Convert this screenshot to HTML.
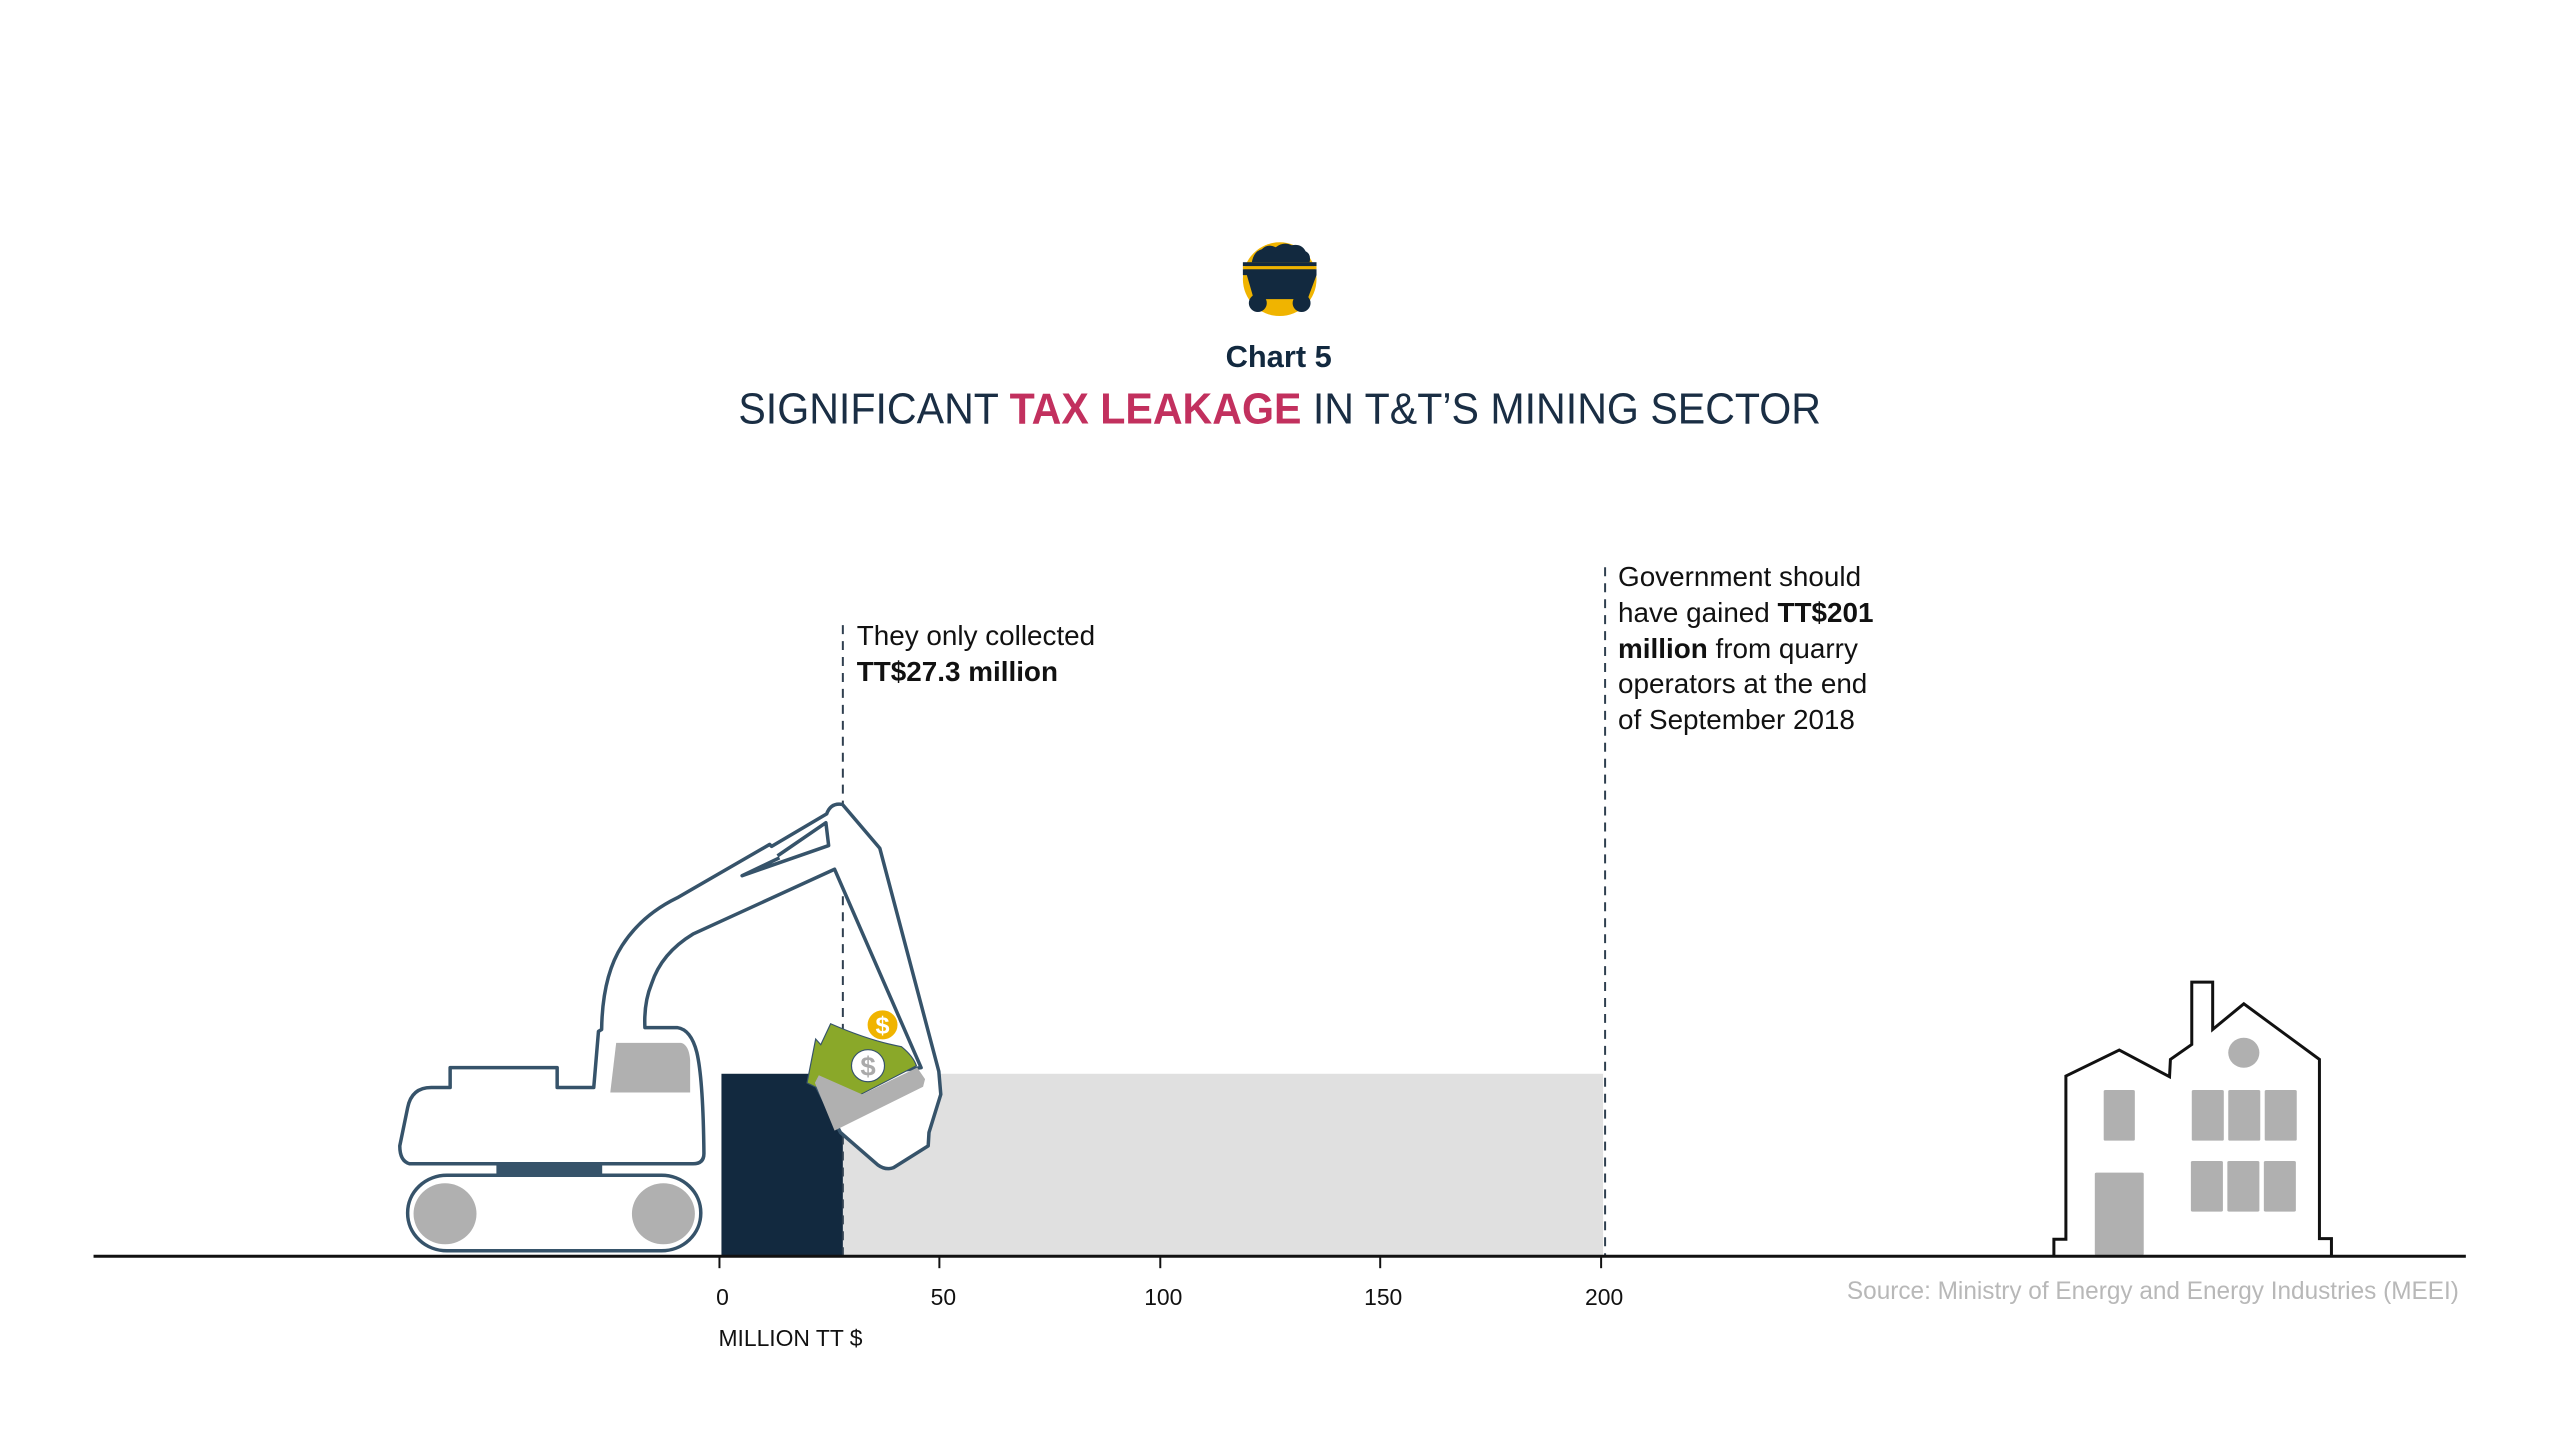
<!DOCTYPE html>
<html><head><meta charset="utf-8"><style>
html,body{margin:0;padding:0;background:#fff;}
svg{display:block;}
text{font-family:"Liberation Sans",sans-serif;}
</style></head><body>
<svg width="2560" height="1440" viewBox="0 0 2560 1440" xmlns="http://www.w3.org/2000/svg">
<rect width="2560" height="1440" fill="#fff"/>
<g transform="scale(0.9951,0.997)">
<!-- icon -->
<g transform="translate(6,0)">
<circle cx="1280" cy="280" r="37" fill="#f0b400"/>
<path d="M1252,263 Q1254,252 1262,250 Q1268,244 1276,248 Q1284,242 1292,246 Q1302,244 1306,252 Q1312,255 1310,263 Z" fill="#12293f"/>
<rect x="1243" y="263" width="74" height="4" fill="#12293f"/>
<rect x="1243" y="267" width="74" height="3" fill="#f0b400"/>
<path d="M1243,270 L1317,270 L1317,276 L1308,300 L1254,300 L1247,276 L1243,276 Z" fill="#12293f"/>
<circle cx="1258" cy="304" r="9" fill="#12293f"/>
<circle cx="1302" cy="304" r="9" fill="#12293f"/>
</g>
<!-- titles -->
<text x="1285" y="368" font-size="31" font-weight="bold" fill="#12293f" text-anchor="middle">Chart 5</text>
<text x="742" y="425" font-size="44" fill="#1a2e44" textLength="1088" lengthAdjust="spacingAndGlyphs">SIGNIFICANT <tspan font-weight="bold" fill="#c2305e">TAX LEAKAGE</tspan> IN T&amp;T’S MINING SECTOR</text>
<!-- bars -->
<rect x="847" y="1077" width="764" height="182" fill="#e0e0e0"/>
<rect x="725" y="1077" width="122" height="182" fill="#12293f"/>
<!-- dashed lines -->
<line x1="847" y1="627" x2="847" y2="1259" stroke="#2f3f4f" stroke-width="2" stroke-dasharray="9,7"/>
<line x1="1613" y1="569" x2="1613" y2="1259" stroke="#2f3f4f" stroke-width="2" stroke-dasharray="9,7"/>
<!-- annotations -->
<text font-size="28" fill="#111"><tspan x="861" y="647">They only collected</tspan><tspan x="861" y="683" font-weight="bold">TT$27.3 million</tspan></text>
<text font-size="28" fill="#111"><tspan x="1626" y="588">Government should</tspan><tspan x="1626" y="624">have gained <tspan font-weight="bold">TT$201</tspan></tspan><tspan x="1626" y="660" font-weight="bold">million <tspan font-weight="normal">from quarry</tspan></tspan><tspan x="1626" y="695">operators at the end</tspan><tspan x="1626" y="731">of September 2018</tspan></text>
<!-- excavator -->
<g transform="translate(380,780) scale(0.3954,0.3827)" stroke="#36536a" stroke-width="3.5" stroke-linejoin="round">
<path vector-effect="non-scaling-stroke" d="M80,1012 Q55,1005 55,965 L75,865 Q85,812 135,812 L183,812 L183,760 L455,760 L455,812 L548,812 L560,665 L568,660 Q570,520 620,440 Q670,360 760,315 L995,175 L1000,180 L1140,95 Q1150,65 1180,70 L1275,185 L1425,770 L1430,830 L1400,930 L1398,965 L1310,1022 Q1290,1030 1270,1015 L1175,930 L1110,800 L1380,760 L1160,240 L800,410 Q720,460 695,540 Q675,590 678,655 L760,655 Q795,660 810,720 Q826,790 828,985 Q828,1012 800,1012 Z" fill="#fff"/>
<path vector-effect="non-scaling-stroke" d="M1015,205 L1138,118 L1145,178 L925,257 L1020,210" fill="none"/>
<rect vector-effect="non-scaling-stroke" x="305" y="1014" width="260" height="28" fill="#36536a"/>
<rect vector-effect="non-scaling-stroke" x="75" y="1042" width="745" height="198" rx="100" ry="98" fill="#fff"/>
</g>
<g transform="translate(380,780) scale(0.3954,0.3827)">
<ellipse cx="170" cy="1143" rx="80" ry="80" fill="#b0b0b0"/>
<ellipse cx="725" cy="1143" rx="80" ry="80" fill="#b0b0b0"/>
<path d="M605,695 L770,695 Q790,700 793,740 L793,825 L590,825 Z" fill="#b0b0b0"/>
<path d="M1150,645 Q1250,690 1330,705 Q1360,730 1368,755 L1180,855 L1120,815 L1090,800 L1112,685 L1125,700 Z" fill="#8aa829" stroke="#36536a" stroke-width="3"/>
<path d="M1110,800 L1160,925 L1385,810 L1390,790 L1370,760 L1230,830 L1120,780 Z" fill="#b0b0b0"/>
<ellipse cx="1282" cy="648" rx="40" ry="40" fill="#f0b400" stroke="#fff" stroke-width="4"/>
<text x="1282" y="670" font-size="64" font-weight="bold" fill="#fff" text-anchor="middle">$</text>
<ellipse cx="1245" cy="755" rx="42" ry="42" fill="#fff" stroke="#36536a" stroke-width="3"/>
<text x="1245" y="780" font-size="70" font-weight="bold" fill="#aaa" text-anchor="middle">$</text>
</g>
<!-- house -->
<g transform="translate(1810.1,962.4) scale(0.447,0.334)">
<path vector-effect="non-scaling-stroke" d="M568,888 L568,840 L595,840 L595,350 L715,272 L828,352 L830,300 L878,255 L878,68 L925,68 L925,210 L995,133 L1165,300 L1165,838 L1192,838 L1192,888" fill="#fff" stroke="#111" stroke-width="3"/>
<ellipse cx="995" cy="280" rx="35" ry="45" fill="#b0b0b0"/>
<rect x="680" y="392" width="70" height="152" rx="4" fill="#b0b0b0"/>
<rect x="878" y="392" width="72" height="152" rx="4" fill="#b0b0b0"/>
<rect x="960" y="392" width="72" height="152" rx="4" fill="#b0b0b0"/>
<rect x="1042" y="392" width="72" height="152" rx="4" fill="#b0b0b0"/>
<rect x="876" y="605" width="72" height="152" rx="4" fill="#b0b0b0"/>
<rect x="958" y="605" width="72" height="152" rx="4" fill="#b0b0b0"/>
<rect x="1040" y="605" width="72" height="152" rx="4" fill="#b0b0b0"/>
<rect x="660" y="640" width="110" height="248" rx="4" fill="#b0b0b0"/>
</g>
<!-- axis -->
<line x1="94" y1="1260" x2="2478" y2="1260" stroke="#111" stroke-width="3"/>
<g stroke="#111" stroke-width="2">
<line x1="723" y1="1261" x2="723" y2="1272"/>
<line x1="944" y1="1261" x2="944" y2="1272"/>
<line x1="1166" y1="1261" x2="1166" y2="1272"/>
<line x1="1387" y1="1261" x2="1387" y2="1272"/>
<line x1="1609" y1="1261" x2="1609" y2="1272"/>
</g>
<g font-size="23" fill="#111" text-anchor="middle">
<text x="726" y="1309">0</text>
<text x="948" y="1309">50</text>
<text x="1169" y="1309">100</text>
<text x="1390" y="1309">150</text>
<text x="1612" y="1309">200</text>
</g>
<text x="722" y="1350" font-size="23" fill="#111">MILLION TT $</text>
<text x="1856" y="1303" font-size="25" fill="#b8b8b8" textLength="615" lengthAdjust="spacingAndGlyphs">Source: Ministry of Energy and Energy Industries (MEEI)</text>
</g>
</svg>
</body></html>
